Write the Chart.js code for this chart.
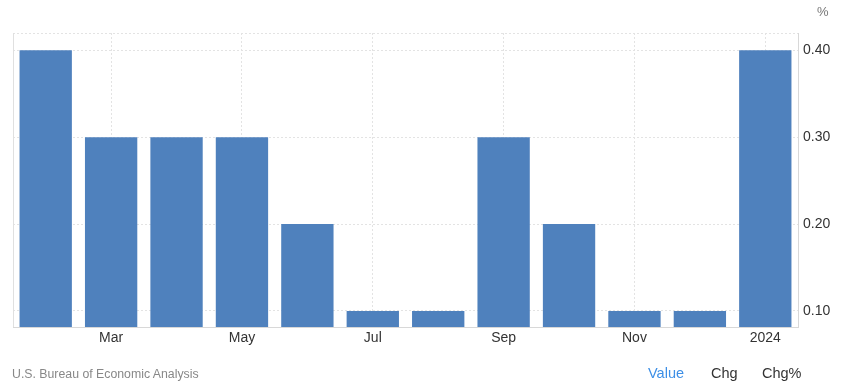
<!DOCTYPE html>
<html lang="en">
<head>
    <meta charset="UTF-8">
    <title>PCE Price Index MoM</title>
    <script src="https://cdn.jsdelivr.net/npm/chart.js"></script>
    <style>
        body {
            margin: 0;
            background: #fff;
            font-family: Arial, "Liberation Sans", sans-serif;
        }
        .wrap {
            position: relative;
            width: 843px;
            height: 387px;
        }
        #chart {
            position: absolute;
            left: 0;
            top: 0;
        }
        .unit {
            position: absolute;
            left: 817px;
            top: 4px;
            font-size: 13px;
            color: #777;
        }
        .source {
            position: absolute;
            left: 12px;
            top: 367px;
            font-size: 12.3px;
            color: #888;
        }
        .tabs {
            position: absolute;
            top: 365px;
            font-size: 14.5px;
            color: #333;
        }
    </style>
</head>
<body>
<div class="wrap">
    <canvas id="chart" width="843" height="387"></canvas>
    <div class="unit">%</div>
    <div class="source">U.S. Bureau of Economic Analysis</div>
    <div class="tabs" style="left:648px;color:#3d8fe6">Value</div>
    <div class="tabs" style="left:711px">Chg</div>
    <div class="tabs" style="left:762px">Chg%</div>
</div>
<script>
    // months Feb 2023 .. Jan 2024
    const months = ['Feb', 'Mar', 'Apr', 'May', 'Jun', 'Jul', 'Aug', 'Sep', 'Oct', 'Nov', 'Dec', 'Jan'];
    const tickLabels = ['', 'Mar', '', 'May', '', 'Jul', '', 'Sep', '', 'Nov', '', '2024'];
    const values = [0.4, 0.3, 0.3, 0.3, 0.2, 0.1, 0.1, 0.3, 0.2, 0.1, 0.1, 0.4];
    const yTicks = [0.1, 0.2, 0.3, 0.4];
    const yMin = 0.0815;
    const yMax = 0.42;

    const gridColor = '#e3e3e3';
    const tickFont = { family: 'Arial, "Liberation Sans", sans-serif', size: 14 };

    // left edge line of the plot area
    const leftEdge = {
        id: 'leftEdge',
        afterDraw(chart) {
            const a = chart.chartArea;
            const ctx = chart.ctx;
            ctx.save();
            ctx.strokeStyle = '#e0e0e0';
            ctx.lineWidth = 1;
            ctx.beginPath();
            ctx.moveTo(a.left + 0.5, a.top);
            ctx.lineTo(a.left + 0.5, a.bottom);
            ctx.stroke();
            ctx.restore();
        }
    };

    new Chart(document.getElementById('chart'), {
        type: 'bar',
        data: {
            labels: months,
            datasets: [{
                data: values,
                backgroundColor: '#4f81bd',
                categoryPercentage: 0.8,
                barPercentage: 1.0
            }]
        },
        options: {
            responsive: false,
            animation: false,
            layout: {
                padding: { left: 13, right: 0, top: 33, bottom: 32 }
            },
            plugins: {
                legend: { display: false },
                tooltip: { enabled: false }
            },
            scales: {
                x: {
                    offset: true,
                    grid: {
                        offset: false,
                        drawTicks: false,
                        color: (ctx) => (ctx.index % 2 === 1 ? gridColor : 'rgba(0,0,0,0)')
                    },
                    border: { display: true, color: '#d8d8d8', dash: [2, 2] },
                    ticks: {
                        autoSkip: false,
                        maxRotation: 0,
                        padding: 3,
                        color: '#333',
                        font: tickFont,
                        callback: (v, i) => tickLabels[i]
                    },
                    afterFit: (scale) => { scale.height = 28; }
                },
                y: {
                    position: 'right',
                    min: yMin,
                    max: yMax,
                    afterBuildTicks: (scale) => {
                        scale.ticks = yTicks.concat([yMax]).map(v => ({ value: v }));
                    },
                    grid: {
                        drawTicks: false,
                        color: gridColor
                    },
                    border: { display: true, color: '#d8d8d8', dash: [2, 2] },
                    ticks: {
                        padding: 5,
                        color: '#333',
                        font: tickFont,
                        callback: (v) => (yTicks.includes(v) ? v.toFixed(2) : '')
                    },
                    afterFit: (scale) => { scale.width = 45; }
                }
            }
        },
        plugins: [leftEdge]
    });
</script>
</body>
</html>
